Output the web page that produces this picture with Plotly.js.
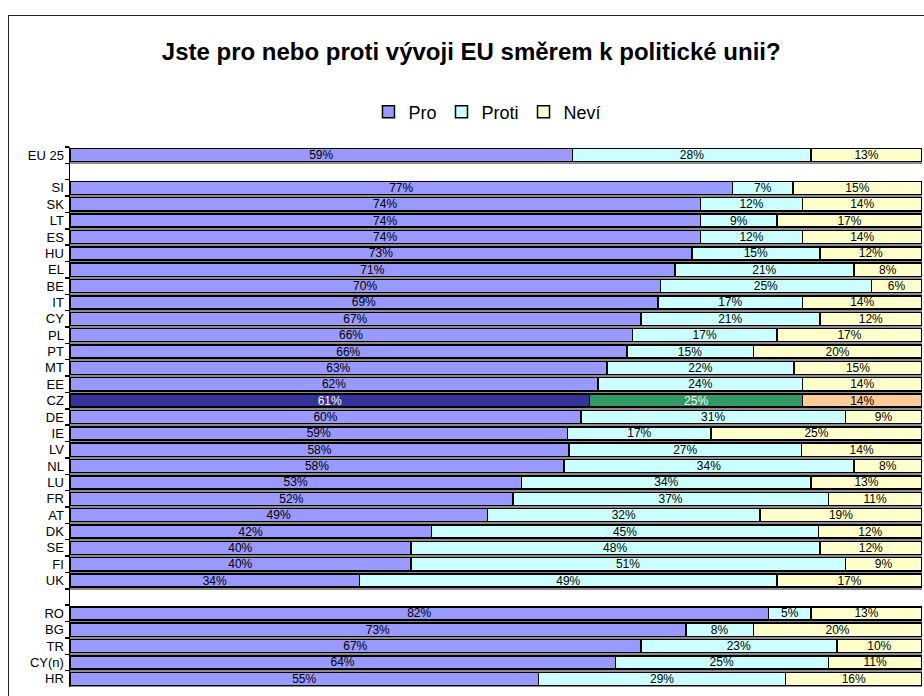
<!DOCTYPE html>
<html>
<head>
<meta charset="utf-8">
<script src="https://cdn.plot.ly/plotly-3.0.1.min.js"></script>
<style>
  html, body { margin:0; padding:0; background:#fff; overflow:hidden; }
  #frame { position:absolute; left:8px; top:15px; width:1000px; height:1000px; border:1px solid #222; box-sizing:border-box; }
  #chart { position:absolute; left:0; top:0; width:924px; height:696px; }
</style>
</head>
<body>
<div id="frame"></div>
<div id="chart"></div>
<script>
// ---- data ----
const countries = ['EU 25','SI','SK','LT','ES','HU','EL','BE','IT','CY','PL','PT','MT','EE','CZ','DE','IE','LV','NL','LU','FR','AT','DK','SE','FI','UK','RO','BG','TR','CY(n)','HR'];
const pro   = [59,77,74,74,74,73,71,70,69,67,66,66,63,62,61,60,59,58,58,53,52,49,42,40,40,34,82,73,67,64,55];
const proti = [28, 7,12, 9,12,15,21,25,17,21,17,15,22,24,25,31,17,27,34,34,37,32,45,48,51,49, 5, 8,23,25,29];
const nevi  = [13,15,14,17,14,12, 8, 6,14,12,17,20,15,14,14, 9,25,14, 8,13,11,19,12,12, 9,17,13,20,10,11,16];
const seriesNames = ['Pro','Proti','Neví'];
const highlight = 'CZ';
// spacer rows after EU 25 and after UK
const spacerAfter = {'EU 25':'\u00a0', 'UK':'\u00a0\u00a0'};

// ---- styling ----
const baseColors = ['#9999FF','#CCFFFF','#FFFFCC'];
const hiColors   = ['#333399','#339966','#FFCC99'];
const hiText     = ['#FFFFFF','#FFFFFF','#000000'];
const FONT = 'Liberation Sans, Arial, sans-serif';

const order = [];
countries.forEach(c => { order.push(c); if (spacerAfter[c]) order.push(spacerAfter[c]); });
const nCat = order.length;

const series = [pro, proti, nevi];
const totals = countries.map((c,i) => pro[i] + proti[i] + nevi[i]);

const traces = [];
// shadow (drawn on base axis, below)
traces.push({
  type:'bar', orientation:'h', y: countries, x: totals, xaxis:'x', yaxis:'y',
  marker:{color:'#8c8c8c', line:{width:0}}, width:0.8, showlegend:false, hoverinfo:'skip'
});
series.forEach((vals, k) => {
  traces.push({
    type:'bar', orientation:'h', name: seriesNames[k],
    y: countries, x: vals, xaxis:'x', yaxis:'y2',
    text: vals, texttemplate:'%{text}%', textposition:'inside', insidetextanchor:'middle',
    textangle:0, constraintext:'none',
    textfont:{family:FONT, size:12, color: countries.map(c => c===highlight ? hiText[k] : '#000')},
    marker:{color: countries.map(c => c===highlight ? hiColors[k] : baseColors[k]),
            line:{color:'#000', width:1.5}},
    width:0.8, hoverinfo:'skip'
  });
});

const shift = 0.16;
const layout = {
  width:924, height:696,
  margin:{l:70, r:2, t:147, b:9},
  paper_bgcolor:'rgba(0,0,0,0)', plot_bgcolor:'#fff',
  barmode:'stack', barnorm:'percent', bargap:0.2,
  font:{family:FONT, size:12, color:'#000'},
  title:{text:'Jste pro nebo proti vývoji EU směrem k politické unii?',
         font:{family:FONT, size:24, weight:'bold', color:'#000'},
         x:0.51, xanchor:'center', y:1-52/696, yanchor:'middle', xref:'container', yref:'container'},
  showlegend:true,
  legend:{orientation:'h', x:0.49, xanchor:'center', y:1+35/540, yanchor:'middle',
          font:{family:FONT, size:18, color:'#000'}, traceorder:'normal', itemwidth:30,
          bgcolor:'rgba(0,0,0,0)'},
  xaxis:{range:[0,100], showgrid:false, zeroline:false, showticklabels:false, ticks:'', showline:false, fixedrange:true},
  yaxis:{type:'category', categoryorder:'array', categoryarray:order,
         range:[nCat-0.5-shift, -0.5-shift], showticklabels:false, ticks:'', showgrid:false, showline:false, zeroline:false},
  yaxis2:{type:'category', categoryorder:'array', categoryarray:order, overlaying:'y', side:'left',
          range:[nCat-0.5, -0.5], ticks:'outside', ticklen:4, tickwidth:1.5, tickcolor:'#000',
          tickson:'boundaries', showline:true, linecolor:'#000', linewidth:1.5,
          showgrid:false, zeroline:false, tickfont:{family:FONT, size:13, color:'#000'}, ticklabelstandoff:2}
};

Plotly.newPlot('chart', traces, layout, {displayModeBar:false, staticPlot:true});
</script>
</body>
</html>
